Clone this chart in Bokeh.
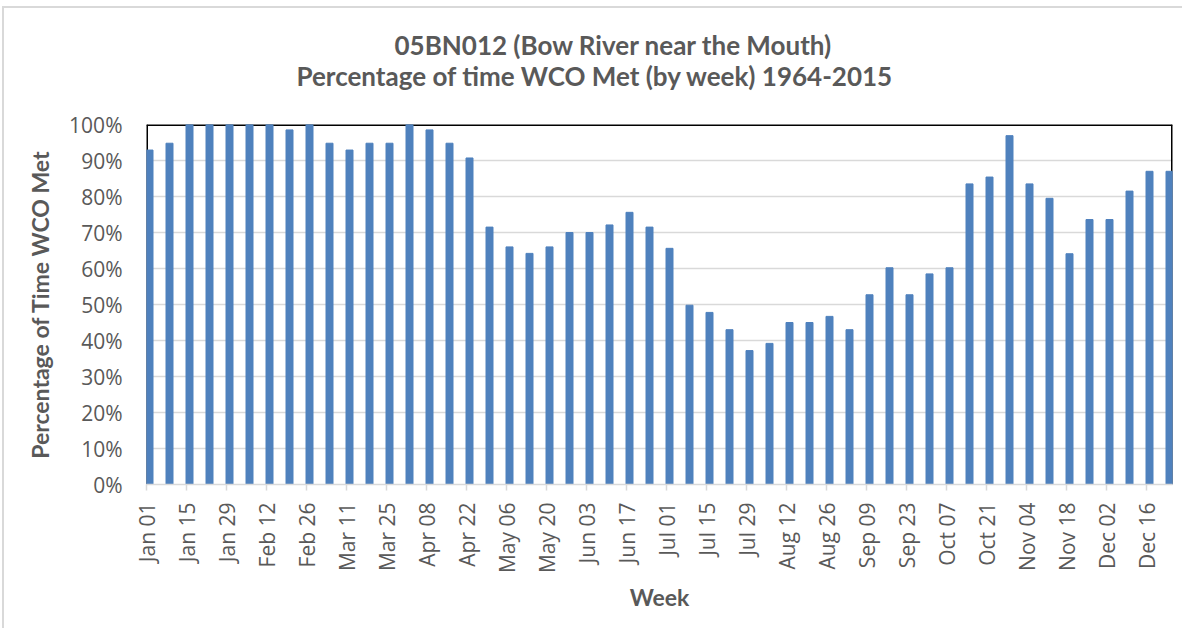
from bokeh.plotting import figure
from bokeh.models import FixedTicker, Span, Title, ColumnDataSource, PrintfTickFormatter
from bokeh.transform import dodge
from bokeh.embed import file_html
from bokeh.resources import INLINE

# ---- data ----
weeks = list(range(52))
pct_met = [92.9, 94.8, 100, 100, 100, 100, 100, 98.5, 100, 94.8,
           92.9, 94.8, 94.8, 100, 98.5, 94.8, 90.7, 71.5, 66.0, 64.2,
           66.0, 70.0, 70.0, 72.1, 75.6, 71.5, 65.6, 49.8, 47.8, 43.0,
           37.2, 39.2, 45.0, 45.0, 46.7, 43.0, 52.7, 60.2, 52.7, 58.5,
           60.2, 83.5, 85.4, 96.9, 83.5, 79.5, 64.1, 73.6, 73.6, 81.5,
           87.0, 87.0]
tick_weeks = list(range(0, 52, 2))
tick_labels = ["Jan 01", "Jan 15", "Jan 29", "Feb 12", "Feb 26", "Mar 11", "Mar 25",
               "Apr 08", "Apr 22", "May 06", "May 20", "Jun 03", "Jun 17", "Jul 01",
               "Jul 15", "Jul 29", "Aug 12", "Aug 26", "Sep 09", "Sep 23", "Oct 07",
               "Oct 21", "Nov 04", "Nov 18", "Dec 02", "Dec 16"]
y_ticks = [0, 10, 20, 30, 40, 50, 60, 70, 80, 90, 100]
title_lines = ["05BN012 (Bow River near the Mouth)",
               "Percentage of time WCO Met (by week) 1964-2015"]

TXT = "#595959"
GRID = "#d9d9d9"
BAR = "#4f81bd"

src = ColumnDataSource(dict(week=weeks, pct=pct_met))

X_END = 51.3
p = figure(width=1180, height=622, x_range=(0, X_END), y_range=(0, 100),
           output_backend="svg", toolbar_location=None,
           min_border_left=142, min_border_right=12,
           min_border_top=116, min_border_bottom=146)
p.outline_line_color = None
p.background_fill_color = "white"
p.border_fill_color = "white"
# light grey chart-area border on the left and top edges
p.styles = {
    "margin-left": "2px",
    "margin-top": "6px",
    "border-left": "2px solid #d9d9d9",
    "border-top": "2px solid #d9d9d9",
}

# plot-area black border (top, left, right), under the bars
for sp in [Span(location=100, dimension="width"),
           Span(location=0, dimension="height"),
           Span(location=X_END, dimension="height")]:
    sp.line_color = "black"
    sp.line_width = 3
    sp.level = "underlay"
    p.add_layout(sp)

p.vbar(x=dodge("week", 0.15, range=p.x_range), top="pct", width=0.35, bottom=0,
       source=src, fill_color=BAR, line_color=BAR, line_width=1, line_join="round")

# x axis
xa = p.xaxis[0]
xa.ticker = FixedTicker(ticks=tick_weeks, minor_ticks=[])
xa.major_label_overrides = {w: l for w, l in zip(tick_weeks, tick_labels)}
xa.major_label_orientation = 1.5707963267948966
xa.axis_line_color = GRID
xa.axis_line_width = 1.5
xa.major_tick_line_color = GRID
xa.major_tick_line_width = 1.5
xa.major_tick_in = 0
xa.major_tick_out = 6
xa.minor_tick_line_color = None
xa.major_label_standoff = 12
xa.major_label_text_font = "Open Sans"
xa.major_label_text_font_size = "21px"
xa.major_label_text_color = TXT
xa.axis_label = "Week"
xa.axis_label_text_font = "Lato"
xa.axis_label_text_font_style = "bold"
xa.axis_label_text_font_size = "23px"
xa.axis_label_text_color = TXT
xa.axis_label_standoff = 7

# y axis
ya = p.yaxis[0]
ya.ticker = FixedTicker(ticks=y_ticks, minor_ticks=[])
ya.formatter = PrintfTickFormatter(format="%d%%")
ya.axis_line_color = None
ya.major_tick_line_color = None
ya.minor_tick_line_color = None
ya.major_label_standoff = 18
ya.major_label_text_font = "Open Sans"
ya.major_label_text_font_size = "21px"
ya.major_label_text_color = TXT
ya.axis_label = "Percentage of Time WCO Met"
ya.axis_label_text_font = "Lato"
ya.axis_label_text_font_style = "bold"
ya.axis_label_text_font_size = "23px"
ya.axis_label_text_color = TXT
ya.axis_label_standoff = 12

p.xgrid.grid_line_color = None
p.ygrid.ticker = FixedTicker(ticks=y_ticks)
p.ygrid.grid_line_color = GRID
p.ygrid.grid_line_width = 1.5

# title (two lines); panels stack outward from the plot: spacer, line 2, line 1
title_kw = dict(align="left", text_font="Lato", text_font_style="bold",
                text_font_size="26px", text_color=TXT)
p.add_layout(Title(text=" ", standoff=2, **title_kw), "above")
p.add_layout(Title(text=title_lines[1], offset=150, standoff=-6, **title_kw), "above")
p.add_layout(Title(text=title_lines[0], offset=248, standoff=0, **title_kw), "above")

open("out.html", "w").write(file_html(p, INLINE))
